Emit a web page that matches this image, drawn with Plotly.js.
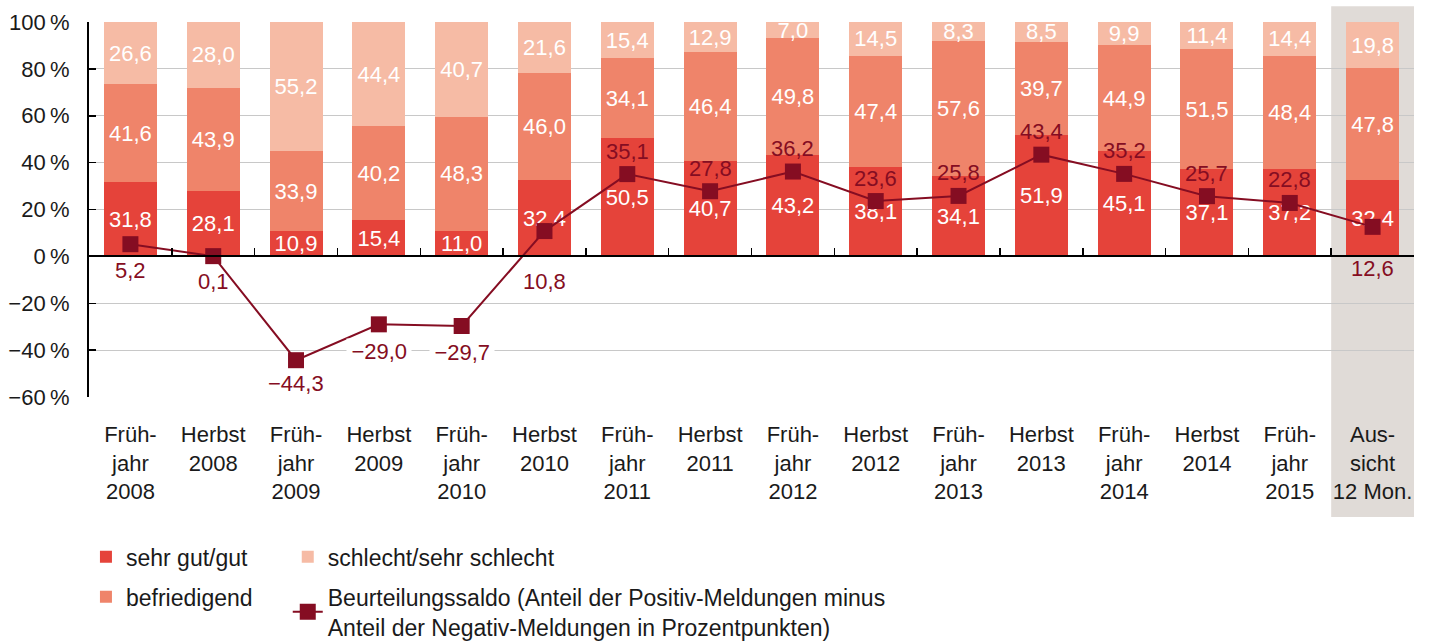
<!DOCTYPE html>
<html><head><meta charset="utf-8">
<script src="https://cdn.plot.ly/plotly-3.0.1.min.js"></script>
<style>html,body{margin:0;padding:0;background:#fff}#chart{width:1431px;height:641px}</style>
</head><body><div id="chart"></div>
<script>
const categories = ['Früh-<br>jahr<br>2008','Herbst<br>2008','Früh-<br>jahr<br>2009','Herbst<br>2009','Früh-<br>jahr<br>2010','Herbst<br>2010','Früh-<br>jahr<br>2011','Herbst<br>2011','Früh-<br>jahr<br>2012','Herbst<br>2012','Früh-<br>jahr<br>2013','Herbst<br>2013','Früh-<br>jahr<br>2014','Herbst<br>2014','Früh-<br>jahr<br>2015','Aus-<br>sicht<br>12 Mon.'];
const sehrGutGut = [31.8,28.1,10.9,15.4,11.0,32.4,50.5,40.7,43.2,38.1,34.1,51.9,45.1,37.1,37.2,32.4];
const befriedigend = [41.6,43.9,33.9,40.2,48.3,46.0,34.1,46.4,49.8,47.4,57.6,39.7,44.9,51.5,48.4,47.8];
const schlecht = [26.6,28.0,55.2,44.4,40.7,21.6,15.4,12.9,7.0,14.5,8.3,8.5,9.9,11.4,14.4,19.8];
const saldo = [5.2,0.1,-44.3,-29.0,-29.7,10.8,35.1,27.8,36.2,23.6,25.8,43.4,35.2,25.7,22.8,12.6];
const yTickVals = [-60,-40,-20,0,20,40,60,80,100];
const yTickLabels = ['\u221260\u2009%','\u221240\u2009%','\u221220\u2009%','0\u2009%','20\u2009%','40\u2009%','60\u2009%','80\u2009%','100\u2009%'];
const seriesNames = ['sehr gut/gut','befriedigend','schlecht/sehr schlecht','Beurteilungssaldo (Anteil der Positiv-Meldungen minus<br>Anteil der Negativ-Meldungen in Prozentpunkten)'];

// styling (not data)
const colors = ['#e5433a','#ef846a','#f6bba5','#850d22'];
const saldoLabelShift = [-26,-25,-23,-27,-27,-50,23,23,23,23,23,23,23,23,23,-42];
const saldoLabelWhiteBg = [false,false,false,true,true,false,false,false,false,false,false,false,false,false,false,false];
const FONT = 'Liberation Sans, Arial, Helvetica, sans-serif';

const fmt = v => v.toFixed(1).replace('.', ',').replace('-', '\u2212');

function barTrace(vals, i, legend, group) {
  return {
    type: 'bar', name: seriesNames[i], x: categories, y: vals,
    marker: {color: colors[i]},
    text: vals.map(fmt), textposition: 'inside', insidetextanchor: 'middle',
    textangle: 0, constraintext: 'none',
    textfont: {color: '#ffffff', size: 22, family: FONT},
    hoverinfo: 'skip', legend: legend, legendgroup: group
  };
}

const traces = [
  barTrace(sehrGutGut, 0, 'legend', 'g1'),
  barTrace(befriedigend, 1, 'legend', 'g2'),
  barTrace(schlecht, 2, 'legend2', 'g3'),
  {
    type: 'scatter', mode: 'lines+markers', name: seriesNames[3],
    x: categories, y: saldo, xaxis: 'x2', yaxis: 'y',
    line: {color: colors[3], width: 2},
    marker: {symbol: 'square', size: 16, color: colors[3]},
    hoverinfo: 'skip', legend: 'legend2', legendgroup: 'g4'
  }
];

const annotations = saldo.map((v, i) => ({
  xref: 'x', yref: 'y', x: categories[i], y: v,
  text: saldoLabelWhiteBg[i] ? '\u2009' + fmt(v) + '\u2009' : fmt(v),
  showarrow: false,
  yshift: saldoLabelShift[i],
  font: {family: FONT, size: 22, color: colors[3]},
  bgcolor: saldoLabelWhiteBg[i] ? '#ffffff' : 'rgba(0,0,0,0)', borderpad: 0
}));

const layout = {
  width: 1431, height: 641,
  margin: {l: 89, r: 17, t: 22, b: 244, autoexpand: false},
  paper_bgcolor: '#ffffff', plot_bgcolor: '#ffffff',
  font: {family: FONT, size: 21, color: '#1a1a1a'},
  separators: ',.',
  barmode: 'stack', bargap: 0.36,
  showlegend: true,
  xaxis: {
    type: 'category', categoryorder: 'array', categoryarray: categories,
    range: [-0.5, 15.5], showline: false, ticks: '', showgrid: false, zeroline: false,
    tickfont: {family: FONT, size: 22, color: '#1a1a1a'}, ticklabelstandoff: 22, fixedrange: true
  },
  xaxis2: {
    type: 'category', categoryorder: 'array', categoryarray: categories,
    overlaying: 'x', anchor: 'free', position: 0.375, side: 'bottom',
    range: [-0.5, 15.5], showline: true, linecolor: '#000000', linewidth: 2,
    ticks: 'inside', tickson: 'boundaries', ticklen: 7, tickwidth: 1.5, tickcolor: '#000000',
    showticklabels: false, showgrid: false, zeroline: false, fixedrange: true
  },
  yaxis: {
    range: [-60, 100], tickmode: 'array', tickvals: yTickVals, ticktext: yTickLabels,
    showline: true, linecolor: '#000000', linewidth: 2,
    ticks: 'inside', ticklen: 7, tickwidth: 1.5, tickcolor: '#000000',
    showgrid: true, gridcolor: '#c8c8c8', gridwidth: 1.2,
    zeroline: true, zerolinecolor: '#000000', zerolinewidth: 2,
    ticklabelstandoff: 13, tickfont: {family: FONT, size: 22, color: '#1a1a1a'}, fixedrange: true
  },
  legend: {
    x: -0.0023, xanchor: 'left', y: -0.369, yanchor: 'top', orientation: 'v',
    font: {family: FONT, size: 23, color: '#1a1a1a'}, bgcolor: 'rgba(0,0,0,0)',
    traceorder: 'grouped', tracegroupgap: 7
  },
  legend2: {
    x: 0.150, xanchor: 'left', y: -0.369, yanchor: 'top', orientation: 'v',
    font: {family: FONT, size: 23, color: '#1a1a1a'}, bgcolor: 'rgba(0,0,0,0)',
    traceorder: 'grouped', tracegroupgap: 7
  },
  shapes: [{
    type: 'rect', layer: 'below', xref: 'x', yref: 'paper',
    x0: 14.5, x1: 15.5, y0: -0.32, y1: 1.042,
    fillcolor: '#e0dbd7', line: {width: 0}
  }],
  annotations: annotations
};

Plotly.newPlot('chart', traces, layout, {displayModeBar: false, staticPlot: true});
</script>
</body></html>
